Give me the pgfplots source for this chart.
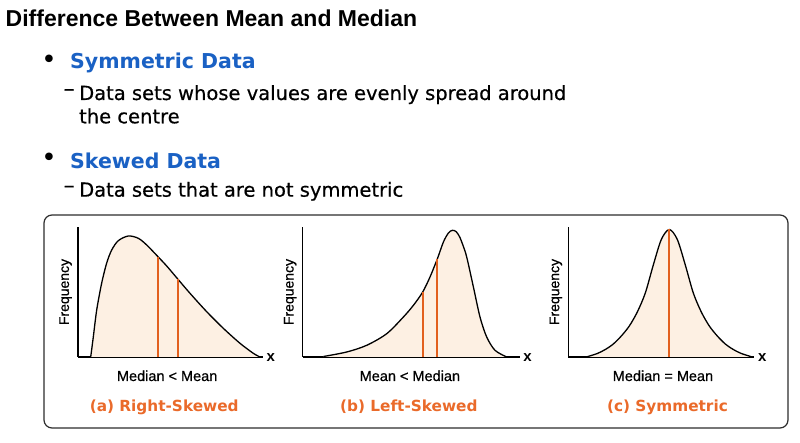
\documentclass[border=0pt]{standalone}
\usepackage{fontspec}
\setmainfont{Liberation Sans}
\newfontfamily\dejavu{DejaVu Sans}
\newfontfamily\dejavumed{DejaVu Sans}[FakeBold=0.5]
\newfontfamily\libmed{Liberation Sans}[FakeBold=0.6]
\usepackage{pgfplots}
\pgfplotsset{compat=1.18}
\usepackage{pgfplotstable}

\definecolor{peach}{HTML}{FDF0E3}
\definecolor{lineor}{HTML}{E2601E}
\definecolor{textor}{HTML}{EA6A2A}
\definecolor{hblue}{HTML}{1A61C4}
\definecolor{boxgray}{HTML}{2E2E2E}

% right-skewed curve (x, height) in axis units
\pgfplotstableread{
x y
12.7 0
15.3 20
18.7 47
23.7 74
28.7 94
33.7 107
40.3 116.3
50.3 121
60.3 118.7
68.7 112
80 100.3
88.7 91
100 77.7
112 63.7
128.7 45.3
145.3 28.7
162 13.7
175.3 3.7
182 0
}\curveA

% left-skewed curve
\pgfplotstableread{
x y
20.7 0.5
44 5
64 11.7
84 23.3
100.7 40
110.7 51.7
120 65
127.3 80
134.7 98.3
140.7 115
145.7 124
149.7 126.7
153.5 125.3
157 120
160.5 111
164 100
170.7 70
177.3 40
184 20
192.3 6.7
204 0
}\curveB

% symmetric curve
\pgfplotstableread{
x y
18 0
29 3.5
37 7.5
45 13
53 21
61 31
69 45
77 64
85 92
93 117.5
101 127.5
109 117.5
117 92
125 64
133 45
141 31
149 21
157 13
165 7.5
173 3.5
184 0
}\curveC

% mean / median markers: x, height of the curve there
\pgfplotstableread{
x y
80 100.3
100 77.7
}\marksA
\pgfplotstableread{
x y
120 65
134.5 98
}\marksB
\pgfplotstableread{
x y
101 127.5
}\marksC

\pgfplotsset{
  distax/.style={
    scale only axis, height=130pt, ymin=0, ymax=130, xmin=0,
    axis x line=bottom, axis y line=left,
    axis line style={line width=1.4pt, black, -},
    ticks=none, clip=false, anchor=south west, axis on top=false,
    every axis y label/.style={at={(axis description cs:#1,0.5)}, rotate=90, anchor=base,
      font=\libmed\fontsize{14}{16}\selectfont},
    every axis x label/.style={anchor=base, font=\libmed\fontsize{14.5}{16}\selectfont},
    every axis title/.style={anchor=base, font=\dejavu\bfseries\fontsize{15.3}{17}\selectfont, text=textor},
  },
  curveline/.style={black, line width=1.3pt, smooth},
  curvefill/.style={fill=peach, draw=none, smooth},
  mmline/.style={ycomb, draw=lineor, line width=1.8pt, mark=none},
}

\begin{document}
\begin{tikzpicture}
\fill[white] (0pt,0pt) rectangle (800pt,443pt);
\begin{scope}[x=1pt,y=1pt]
  % heading
  \node[anchor=base west, inner sep=0pt, font=\bfseries\fontsize{23}{26}\selectfont]
    at (5.5,416.3) {Difference Between Mean and Median};
  % bullet 1
  \node[inner sep=0pt, font=\dejavu\fontsize{26}{26}\selectfont] at (49,381) {•};
  \node[anchor=base west, inner sep=0pt, text=hblue, font=\dejavu\bfseries\fontsize{20.5}{24}\selectfont]
    at (70,374.7) {Symmetric Data};
  \node[anchor=base west, inner sep=0pt, font=\dejavumed\fontsize{22}{22}\selectfont] at (63.5,347) {–};
  \node[anchor=base west, inner sep=0pt, font=\dejavumed\fontsize{19.5}{22}\selectfont]
    at (79,343) {Data sets whose values are evenly spread around};
  \node[anchor=base west, inner sep=0pt, font=\dejavumed\fontsize{19.5}{22}\selectfont]
    at (79,319.7) {the centre};
  % bullet 2
  \node[inner sep=0pt, font=\dejavu\fontsize{26}{26}\selectfont] at (49,283) {•};
  \node[anchor=base west, inner sep=0pt, text=hblue, font=\dejavu\bfseries\fontsize{20.5}{24}\selectfont]
    at (70,274.7) {Skewed Data};
  \node[anchor=base west, inner sep=0pt, font=\dejavumed\fontsize{22}{22}\selectfont] at (63.5,250.3) {–};
  \node[anchor=base west, inner sep=0pt, font=\dejavumed\fontsize{19.5}{22}\selectfont]
    at (79,246.3) {Data sets that are not symmetric};
  % panel box
  \draw[boxgray, line width=1.2pt, rounded corners=8pt] (44,15) rectangle (788,228);
\end{scope}

% (a) right-skewed
\begin{axis}[distax=-0.049, at={(78pt,86pt)}, width=185pt, xmax=185,
  ylabel={Frequency},
  xlabel={Median < Mean}, xlabel style={at={(axis description cs:0.482,0)}, yshift=-24pt},
  title={(a) Right-Skewed}, title style={at={(axis description cs:0.466,0)}, yshift=-54.5pt}]
  \addplot[curvefill] table {\curveA} \closedcycle;
  \addplot[curveline] table {\curveA};
  \addplot[mmline] table {\marksA};
  \node[anchor=base west, inner sep=0pt, font=\bfseries\fontsize{15}{16}\selectfont] at (axis cs:188.5,-5) {x};
\end{axis}

% (b) left-skewed
\begin{axis}[distax=-0.042, at={(302.7pt,86pt)}, width=217pt, xmax=217,
  ylabel={Frequency},
  xlabel={Mean < Median}, xlabel style={at={(axis description cs:0.494,0)}, yshift=-24pt},
  title={(b) Left-Skewed}, title style={at={(axis description cs:0.489,0)}, yshift=-54.5pt}]
  \addplot[curvefill] table {\curveB} \closedcycle;
  \addplot[curveline] table {\curveB};
  \addplot[mmline] table {\marksB};
  \node[anchor=base west, inner sep=0pt, font=\bfseries\fontsize{15}{16}\selectfont] at (axis cs:220.5,-5) {x};
\end{axis}

% (c) symmetric
\begin{axis}[distax=-0.049, at={(568.3pt,86pt)}, width=186pt, xmax=186,
  ylabel={Frequency},
  xlabel={Median = Mean}, xlabel style={at={(axis description cs:0.509,0)}, yshift=-24pt},
  title={(c) Symmetric}, title style={at={(axis description cs:0.533,0)}, yshift=-54.5pt}]
  \addplot[curvefill] table {\curveC} \closedcycle;
  \addplot[curveline] table {\curveC};
  \addplot[mmline] table {\marksC};
  \node[anchor=base west, inner sep=0pt, font=\bfseries\fontsize{15}{16}\selectfont] at (axis cs:189.5,-5) {x};
\end{axis}
\end{tikzpicture}
\end{document}
